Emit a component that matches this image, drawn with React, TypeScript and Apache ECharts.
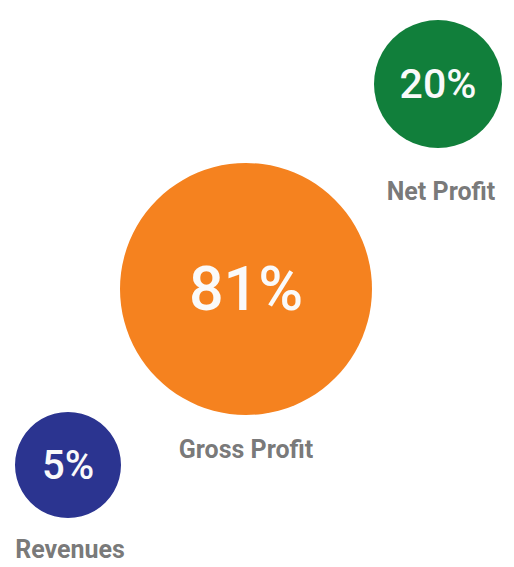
import React, { useEffect, useRef } from "react";
import * as echarts from "echarts";

const categories = ["Revenues", "Gross Profit", "Net Profit"];
const values = [5, 81, 20];

// layout (in pixel-like axis units) and styles, separate from data
const centersX = [68, 246, 438];
const centersY = [465, 289, 84];
const diameters = [106, 252, 128];
const colors = ["#2b3490", "#f5821f", "#117f3b"];
const valueFont = [40, 61, 41];
const nameDistance = [19, 22, 31];
const nameOffsetX = [2, 0, 3];

export default function App() {
  const ref = useRef<HTMLDivElement>(null);
  useEffect(() => {
    document.body.style.margin = "0";
    const chart = echarts.init(ref.current!, null, { renderer: "svg" });
    const bubbleData = categories.map((name, i) => ({
      name,
      value: [centersX[i], centersY[i], values[i]],
      symbolSize: diameters[i],
      itemStyle: { color: colors[i], opacity: 1 },
      label: { fontSize: valueFont[i] },
    }));
    const nameData = categories.map((name, i) => ({
      name,
      value: [centersX[i], centersY[i], values[i]],
      symbolSize: diameters[i],
      label: { distance: nameDistance[i], offset: [nameOffsetX[i], 0] },
    }));
    chart.setOption({
      animation: false,
      grid: { left: 0, right: 0, top: 0, bottom: 0 },
      xAxis: { type: "value", min: 0, max: 514, show: false },
      yAxis: { type: "value", min: 0, max: 567, inverse: true, show: false },
      series: [
        {
          type: "scatter",
          data: bubbleData,
          label: {
            show: true,
            position: "inside",
            color: "#fafafa",
            fontFamily: "Roboto",
            fontWeight: 500,
            formatter: (p: any) => p.value[2] + "%",
          },
          silent: true,
        },
        {
          type: "scatter",
          data: nameData,
          itemStyle: { color: "rgba(0,0,0,0)" },
          label: {
            show: true,
            position: "bottom",
            color: "#555555",
            fontFamily: "Roboto",
            fontWeight: 700,
            fontSize: 25,
            formatter: (p: any) => p.name,
          },
          silent: true,
        },
      ],
    });
    return () => chart.dispose();
  }, []);
  return <div ref={ref} style={{ width: 514, height: 567 }} />;
}
